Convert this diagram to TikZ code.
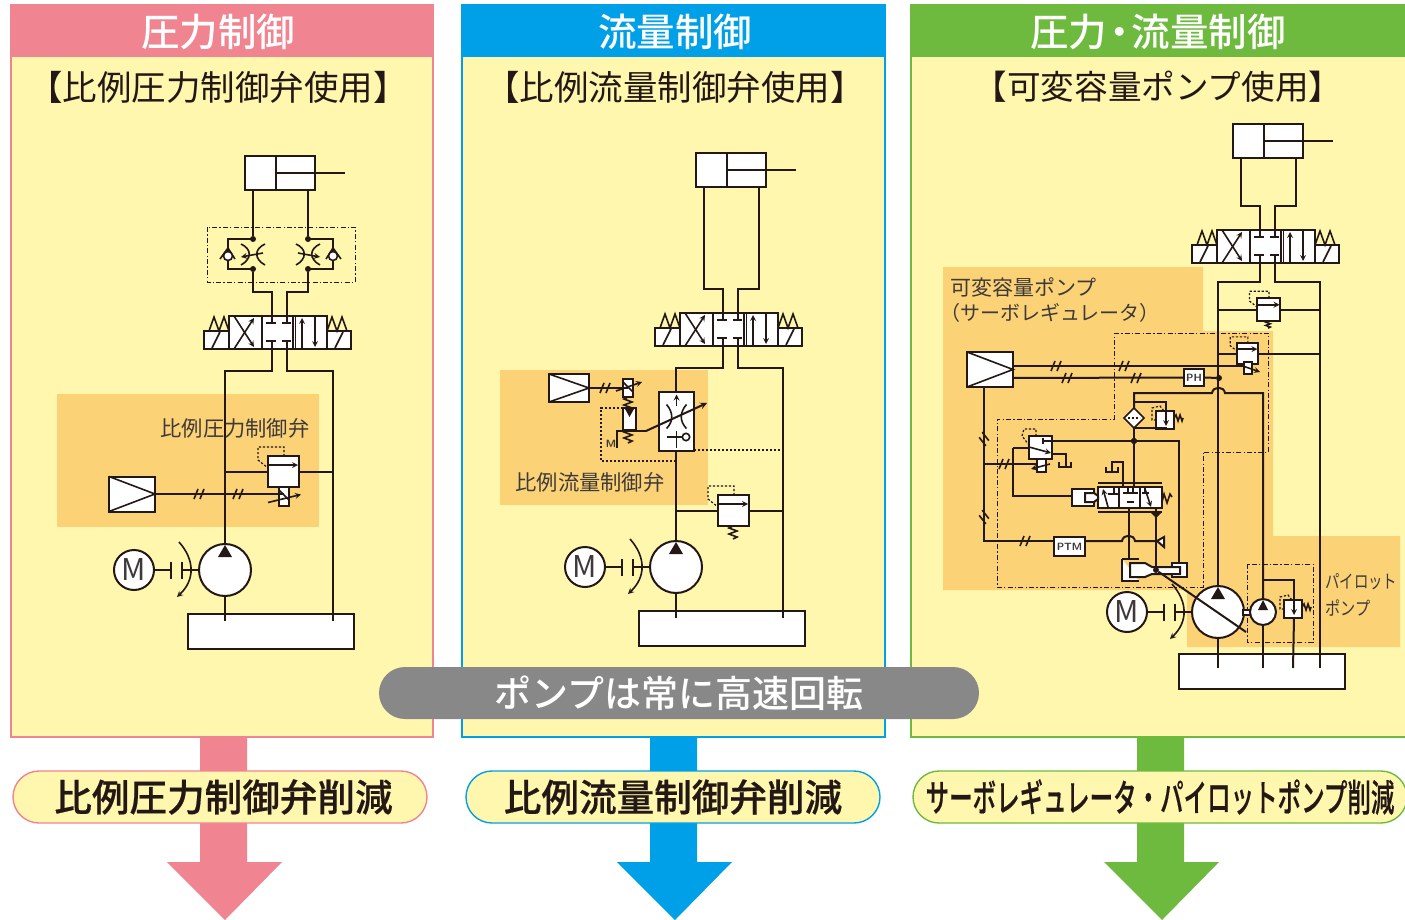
\documentclass[tikz,border=0pt]{standalone}
\usepackage{fontspec}
\setmainfont{Noto Sans CJK JP}
\newfontfamily\medfont{Noto Sans CJK JP Medium}
\newfontfamily\heavyfont[FakeBold=.5]{Noto Sans CJK JP Medium}
\usetikzlibrary{calc,positioning,shapes.geometric}
\definecolor{pinkc}{HTML}{F08490}
\definecolor{bluec}{HTML}{00A0E9}
\definecolor{greenc}{HTML}{6DBA3E}
\definecolor{paperc}{HTML}{FFF7AE}
\definecolor{orangec}{HTML}{FCD277}
\definecolor{greyc}{HTML}{888888}
\definecolor{inkc}{HTML}{231815}
\definecolor{labelc}{HTML}{3E3A39}
\begin{document}
\begin{tikzpicture}[
                x=1pt,y=-1pt,
                pipe/.style={draw=inkc,line width=2pt},
                thinline/.style={draw=inkc,line width=1.6pt},
                pilot/.style={draw=inkc,line width=1.2pt,dash pattern=on 2.2pt off 1.8pt},
                chain/.style={draw=inkc,line width=.9pt,dash pattern=on 5pt off 2.2pt on 1.3pt off 2.2pt},
                part/.style={draw=inkc,line width=2pt,fill=white},
                panelbox/.style={draw,line width=1.5pt,fill=paperc,minimum height=732,inner sep=0pt,outer sep=0pt},
                headbox/.style={minimum height=52,inner sep=0pt,outer sep=0pt},
                headtext/.style={text=white,font=\medfont\fontsize{38.5}{40}\selectfont,inner sep=0pt},
                subtext/.style={text=inkc,font=\fontsize{34.5}{36}\selectfont,inner sep=0pt},
                smalltext/.style={text=labelc,font=\fontsize{21.3}{24}\selectfont,inner sep=0pt},
                pillbox/.style={draw,line width=1.4pt,fill=paperc,rounded corners=26,minimum height=52,inner sep=0pt,outer sep=0pt,text=inkc,font=\heavyfont\fontsize{37.6}{40}\selectfont},
                greypill/.style={fill=greyc,rounded corners=26,minimum width=600,minimum height=52,inner sep=0pt,text=white,font=\medfont\fontsize{37}{40}\selectfont},
                orangebox/.style={fill=orangec,inner sep=0pt,outer sep=0pt},
                partbox/.style={part,inner sep=0pt,outer sep=0pt},
                tankbox/.style={part,minimum width=166,minimum height=35,inner sep=0pt,outer sep=0pt},
                ampbox/.style={part,minimum width=46,minimum height=35,inner sep=0pt,outer sep=0pt},
                tagbox/.style={part,inner sep=0pt,outer sep=0pt,text=labelc,font=\sffamily\bfseries\fontsize{10.5}{12}\selectfont},
                motorbox/.style={part,circle,minimum size=40,inner sep=0pt,outer sep=0pt,text=labelc,font=\fontsize{30}{30}\selectfont},
                dotnode/.style={circle,fill=inkc,minimum size=6,inner sep=0pt,outer sep=0pt},
                pics/cylinder/.style={code={
                    \draw[part] (0,0) rectangle (70,34);
                    \draw[pipe] (31,0) -- (31,34) (31,17) -- (100,17);
                    \coordinate (-l) at (8,34);
                    \coordinate (-r) at (63,34);
                }},
                pics/dirvalve/.style={code={
                    \draw[part] (0,0) rectangle (98,33);
                    \draw[part] (-25,15) rectangle (0,33);
                    \draw[part] (98,15) rectangle (122,33);
                    \draw[pipe] (33,0) -- (33,33) (64,0) -- (64,33);
                    \draw[thinline] (66.5,0) -- (66.5,33);
                    \draw[thinline] (-17,32) -- (-9,16) (106,32) -- (114,16);
                    \draw[thinline] (-20,15) -- (-15,1) -- (-10,15) -- (-5,1) -- (0,15);
                    \draw[thinline] (98,15) -- (103,1) -- (108,15) -- (113,1) -- (118,15);
                    \draw[thinline,-stealth] (5,33) -- (25,2);
                    \draw[thinline,-stealth] (5,0) -- (25,31);
                    \draw[thinline,-stealth] (73,33) -- (73,2);
                    \draw[thinline,-stealth] (86,0) -- (86,31);
                    \draw[pipe] (37,7) -- (47,7) (53,7) -- (62,7) (37,25) -- (47,25) (53,25) -- (62,25);
                    \draw[pipe] (43,0) -- (43,7) (58,0) -- (58,7) (43,25) -- (43,33) (58,25) -- (58,33);
                    \coordinate (-a) at (43,0);
                    \coordinate (-b) at (58,0);
                    \coordinate (-p) at (43,33);
                    \coordinate (-t) at (58,33);
                }},
                pics/throttle/.style={code={
                    \draw[thinline] (-12,-10) .. controls (-1,-5) and (-1,5) .. (-12,11);
                    \draw[thinline] (12,-10) .. controls (1,-5) and (1,5) .. (12,11);
                    \draw[thinline,-stealth] (10,-1) -- (-12,3);
                    \draw[thinline] (0,-15) -- (-25,-15) -- (-25,15) -- (0,15);
                    \draw[thinline] (-33,5) -- (-25,-6) -- (-18,5);
                    \draw[thinline,fill=white] (-25,2) circle (4.5);
                    \node[dotnode] (-top) at (0,-15) {};
                    \node[dotnode] (-bot) at (0,15) {};
                }},
                pics/relief/.style={code={
                    \draw[pilot] (16,0) -- (16,-9) -- (-10,-9) -- (-10,4) -- (0,12);
                    \draw[part] (0,0) rectangle (31,31);
                    \draw[thinline,-stealth] (0,9) -- (30,9);
                    \coordinate (-in) at (0,16);
                    \coordinate (-out) at (31,16);
                }},
                pics/sidevalve/.style={code={
                    \draw[pilot] (0,9) -- (-4,9) -- (-4,-3) -- (4,-5) -- (8,0);
                    \draw[part] (0,0) rectangle (18,18);
                    \draw[thinline,-stealth] (10,0) -- (10,15);
                    \draw[thinline] (18,7) -- (20,4) -- (22,10) -- (24,4) -- (26,10) -- (27,7);
                    \coordinate (-top) at (10,0);
                    \coordinate (-bot) at (10,18);
                }},
                pics/spring/.style={code={
                    \draw[thinline] (0,0) -- (-4,2) -- (4,5) -- (-4,8) -- (4,11) -- (0,13);
                }},
                pics/slash/.style={code={
                    \draw[thinline] (-5,5) -- (-1,-5) (1,5) -- (5,-5);
                }},
                pics/pumpset/.style={code={
                    \node[motorbox] (-m) at (-91,0) {M};
                    \draw[thinline] (-71,0) -- (-54,0) (-54,-8) -- (-54,9) (-43,-8) -- (-43,9) (-43,0) -- (-26,0);
                    \draw[thinline,-stealth] (-46,-28) .. controls (-30,-10) and (-30,10) .. (-48,27);
                    \draw[part] (0,0) circle (26);
                    \fill[inkc] (0,-25) -- (-7,-13) -- (7,-13) -- cycle;
                    \coordinate (-top) at (0,-26);
                    \coordinate (-bot) at (0,26);
                }},
                pics/bigarrow/.style={code={
                    \fill[#1] (-24,0) -- (23,0) -- (23,125) -- (58,125) -- (1,183) -- (-57,125) -- (-24,125) -- cycle;
                }}
            ]
                \useasboundingbox (0,0) rectangle (1405,920);
                \fill[white] (0,0) rectangle (1405,920);

                \pic at (224,737) {bigarrow=pinkc};
                \pic at (674,737) {bigarrow=bluec};
                \pic at (1161,737) {bigarrow=greenc};
                \node[panelbox,draw=pinkc,minimum width=422] (panelA) at (222,371) {};
                \node[panelbox,draw=bluec,minimum width=423] (panelB) at (673.5,371) {};
                \node[panelbox,draw=greenc,minimum width=520] (panelC) at (1171,371) {};
                \node[headbox,fill=pinkc,minimum width=423] (headA) at (222,31) {};
                \node[headbox,fill=bluec,minimum width=424] (headB) at (673.5,31) {};
                \node[headbox,fill=greenc,minimum width=520] (headC) at (1171,31) {};
                \node[headtext] (titleA) at (218,32) {圧力制御};
                \node[headtext] (titleB) at (675,32) {流量制御};
                \node[headtext] (titleC) at (1158,32) {圧力\hspace{-7pt}・\hspace{-7pt}流量制御};
                \node[subtext] (subA) at (218,87) {【比例圧力制御弁使用】};
                \node[subtext] (subB) at (675,87) {【比例流量制御弁使用】};
                \node[subtext,font=\fontsize{33.6}{36}\selectfont] (subC) at (1158,87) {【可変容量ポンプ使用】};

                \node[orangebox,minimum width=262,minimum height=133] (zoneA) at (188,460.5) {};
                \node[orangebox,minimum width=208,minimum height=135] (zoneB) at (604,437.5) {};
                \fill[orangec] (943,267) -- (1203,267) -- (1203,331) -- (1273,331) -- (1273,536) -- (1400,536) -- (1400,647) -- (1187,647) -- (1187,590) -- (943,590) -- cycle;

                \node[tankbox] (tankA) at (271,631.5) {};
                \coordinate (tankAp) at (225,621);
                \coordinate (tankAt) at (333,621);
                \node[tankbox] (tankB) at (721.5,628.5) {};
                \coordinate (tankBp) at (676,618);
                \coordinate (tankBt) at (783,618);
                \node[tankbox] (tankC) at (1261.5,671.5) {};
                \coordinate (tankCp) at (1218,668);
                \coordinate (tankCq) at (1263,668);
                \coordinate (tankCs) at (1293,668);
                \coordinate (tankCt) at (1320,668);

                \pic (cylA) at (245,156) {cylinder};
                \pic (valA) at (229,316) {dirvalve};
                \pic (thrL) at (253,254) {throttle};
                \pic[xscale=-1] (thrR) at (308,254) {throttle};
                \draw[chain] (207,227) rectangle (355,282);
                \draw[pipe] (cylA-l) -- (thrL-top);
                \draw[pipe] (cylA-r) -- (thrR-top);
                \draw[pipe] (thrL-bot) -- ++(0,23) -| (valA-a);
                \draw[pipe] (thrR-bot) -- ++(0,23) -| (valA-b);
                \pic (pumpA) at (225,570) {pumpset};
                \draw[pipe] (valA-p) -- ++(0,22) -| (pumpA-top);
                \draw[pipe] (valA-t) -- ++(0,22) -| (tankAt);
                \draw[pipe] (pumpA-bot) -- (tankAp);
                \node[smalltext] (labelA) at (235,428) {比例圧力制御弁};
                \pic (reliefA) at (268,456) {relief};
                \draw[pipe] (reliefA-in) -- (reliefA-in -| pumpA-top);
                \draw[pipe] (reliefA-out) -- (reliefA-out -| tankAt);
                \node[ampbox] (ampA) at (132,494) {};
                \draw[thinline] (ampA.north west) -- (ampA.east) -- (ampA.south west);
                \node[partbox,minimum width=10,minimum height=19] (solA) at (284,496.5) {};
                \draw[pipe] (ampA.east) -- (ampA.east -| solA.center);
                \draw[thinline] (solA.north west) ++(0,3) -- ++(10,10);
                \draw[thinline,-stealth] (solA.center) ++(-16,6) -- ++(33,-8);
                \pic at (199,494) {slash};
                \pic at (238,494) {slash};

                \pic (cylB) at (696,153) {cylinder};
                \pic (valB) at (680,313) {dirvalve};
                \draw[pipe] (cylB-l) -- ++(0,102) -| (valB-a);
                \draw[pipe] (cylB-r) -- ++(0,102) -| (valB-b);
                \pic (pumpB) at (676,567) {pumpset};
                \draw[pipe] (valB-p) -- ++(0,22) -| (pumpB-top);
                \draw[pipe] (valB-t) -- ++(0,22) -| (tankBt);
                \draw[pipe] (pumpB-bot) -- (tankBp);
                \node[smalltext] (labelB) at (590,482) {比例流量制御弁};
                \coordinate (pilotB) at (676,461);
                \node[partbox,minimum width=35,minimum height=59] (flowB) at (676.5,421.5) {};
                \draw[pilot] (flowB.south east) ++(0,-1) -- ++(89,0);
                \draw[thinline,-stealth] (flowB.center) ++(0,-16) -- ++(0,-11);
                \draw[thinline] (flowB.center) ++(0,9) -- ++(0,17);
                \draw[thinline] ($(flowB.center)+(-10,-17)$) .. controls ($(flowB.center)+(-3,-9)$) and ($(flowB.center)+(-3,0)$) .. ($(flowB.center)+(-10,7)$);
                \draw[thinline] ($(flowB.center)+(10,-17)$) .. controls ($(flowB.center)+(3,-9)$) and ($(flowB.center)+(3,0)$) .. ($(flowB.center)+(10,7)$);
                \draw[thinline] (flowB.center) ++(-10,15.5) -- ++(16,0);
                \draw[thinline,fill=white] (flowB.center) ++(9.5,15.5) circle (3.7);
                \node[partbox,minimum width=13,minimum height=22] (spoolB) at (629.5,419) {};
                \draw[pilot] (spoolB.north west) -- ++(-22,0) |- (pilotB);
                \fill[inkc] (spoolB.north) ++(-5,0) -- ++(10,0) -- ++(-5,9) -- cycle;
                \node[ampbox,minimum width=40,minimum height=28] (ampB) at (569,388) {};
                \draw[thinline] (ampB.north west) -- (ampB.east) -- (ampB.south west);
                \node[partbox,minimum width=10,minimum height=18] (solB) at (628,388) {};
                \draw[pipe] (ampB.east) -- (solB.center);
                \draw[thinline] (solB.north west) ++(0,3) -- ++(10,10);
                \draw[thinline,-stealth] (solB.center) ++(-12,3) -- ++(26,-9);
                \pic at (605,388) {slash};
                \pic at (628,397) {spring};
                \pic[scale=1] at (628,430) {spring};
                \coordinate (mstemB) at (617,448);
                \draw[pipe] (mstemB) |- (646,431);
                \draw[pipe,-stealth] (646,431) -- (707,403);
                \node[text=labelc,font=\sffamily\bfseries\fontsize{10.5}{12}\selectfont,inner sep=0pt] (mtagB) at (611,444) {M};
                \pic (reliefB) at (718,495) {relief};
                \draw[pipe] (reliefB-in) -- (reliefB-in -| pumpB-top);
                \draw[pipe] (reliefB-out) -- (reliefB-out -| tankBt);
                \pic at (733,526) {spring};

                \pic (cylC) at (1233,124) {cylinder};
                \pic (valC) at (1217,230) {dirvalve};
                \draw[pipe] (cylC-l) -- ++(0,48) -| (valC-a);
                \draw[pipe] (cylC-r) -- ++(0,48) -| (valC-b);
                \draw[chain] (1114,333) -- (1268,333) -- (1268,452) -- (1203,452) -- (1203,587) -- (997,587) -- (997,419) -- (1114,419) -- cycle;
                \draw[chain] (1247,564) rectangle (1313,642);
                \pic (pumpC) at (1218,612) {pumpset};
                \draw[pipe] (valC-p) -- ++(0,19) -| (pumpC-top);
                \draw[pipe] (valC-t) -- ++(0,19) -| (tankCt);
                \draw[pipe] (pumpC-bot) -- (tankCp);
                \node[smalltext,anchor=west,font=\fontsize{21}{24}\selectfont] (labelC) at (950,287) {可変容量ポンプ};
                \node[smalltext,anchor=west,font=\fontsize{20}{24}\selectfont] (labelD) at (940,313) {（サーボレギュレータ）};
                \node[smalltext,anchor=west,font=\fontsize{18.5}{22}\selectfont] (labelE) at (1325,582) {\scalebox{.78}[1]{パイロット}};
                \node[smalltext,anchor=west,font=\fontsize{18.5}{22}\selectfont] (labelF) at (1325,608) {\scalebox{.82}[1]{ポンプ}};
                \pic[scale=.75] (reliefC) at (1257,298) {relief};
                \draw[pipe] (reliefC-in) -- (reliefC-in -| pumpC-top);
                \draw[pipe] (reliefC-out) -- (reliefC-out -| tankCt);
                \pic[scale=.55] at (1268,321) {spring};
                \pic[scale=.68] (reliefD) at (1237,343) {relief};
                \draw[pipe] (reliefD-in) -- (reliefD-in -| pumpC-top);
                \draw[pipe] (reliefD-out) -- (reliefD-out -| tankCt);
                \node[ampbox] (ampC) at (990,369.5) {};
                \draw[thinline] (ampC.north west) -- (ampC.east) -- (ampC.south west);
                \node[partbox,minimum width=8,minimum height=12] (solC) at (1248,368) {};
                \draw[pipe] ([yshift=3.5pt]ampC.east) -- (solC.west |- 0,366);
                \draw[thinline,-stealth] (solC.center) ++(-8,-3) -- ++(20,7);
                \node[tagbox,minimum width=20,minimum height=17] (tagPH) at (1194,377.5) {PH};
                \node[dotnode] (dotPH) at (1219,378) {};
                \draw[pipe] ([yshift=-8.5pt]ampC.east) -- (tagPH.west);
                \draw[pipe] (tagPH.east) -- (dotPH);
                \pic at (1056,366) {slash};
                \pic at (1124,366) {slash};
                \pic at (1067,378) {slash};
                \pic at (1136,378) {slash};

                \node[partbox,minimum width=64,minimum height=21] (servoV) at (1130,497.5) {};
                \node[dotnode] (dotF) at (1134,441) {};
                \node[draw=inkc,line width=1.7pt,fill=white,diamond,minimum size=20,inner sep=0pt,outer sep=0pt] (filterC) at (1134,418) {};
                \draw[pilot] (filterC.west) ++(4,0) -- ++(12,0);
                \pic (sideC) at (1156,411) {sidevalve};
                \draw[pipe] (servoV.north -| dotF) -- (dotF) -- (filterC.south);
                \draw[pipe] (filterC.north) -- ++(0,-15) -- (1212,393) .. controls (1213,386) and (1224,386) .. (1225,393) -- (1263,393) -- (1263,599);
                \draw[pipe] (filterC.north) ++(0,-6) -| (sideC-top);
                \draw[pipe] (sideC-bot) |- (filterC.south);
                \node[dotnode] at (1134,441) {};
                \draw[pipe] (dotF) -- (1179,441) -- (1179,563);
                \draw[pipe] (1136,441) -- (1043,441) -- (1043,444);
                \draw[thinline] (servoV.north west) ++(0,-4) -- ++(64,0);
                \draw[thinline] (servoV.south west) ++(0,4) -- ++(64,0);
                \draw[thinline] (1119,487) -- (1119,508) (1140,487) -- (1140,508);
                \draw[thinline,-stealth] (1108,507) -- (1103,489);
                \draw[thinline] (1114,488) -- (1114,494) (1108,494) -- (1118,494);
                \draw[thinline] (1123,493) -- (1138,493) (1128,488) -- (1128,493) (1133,488) -- (1133,493);
                \draw[thinline] (1127,502) -- (1134,502);
                \draw[thinline] (1142,493) -- (1149,493) (1145,488) -- (1145,493);
                \draw[thinline,-stealth] (1145,489) -- (1151,507);
                \draw[thinline] (1162,502) -- (1164,494) -- (1167,503) -- (1170,494) -- (1172,497);
                \draw[pipe] (1123,487) -- (1123,462) -- (1112,462) -- (1112,472);
                \draw[pipe] (1106,467) -- (1106,472) -- (1118,472) -- (1118,467);
                \node[partbox,minimum width=22,minimum height=17] (pistonC) at (1083,497.5) {};
                \draw[part] (1085,493) -- (1094,493) -- (1098,496) -- (1098,499) -- (1094,502) -- (1085,502) -- cycle;
                \draw[pipe] (1013,448) -- (1013,496) -- (pistonC.west |- 0,496);
                \draw[pilot] (1036,436) -- (1036,429) -- (1024,429) -- (1022,436) -- (1029,445);
                \node[partbox,minimum width=23,minimum height=23] (reliefE) at (1040.5,447.5) {};
                \draw[pipe] (reliefE.west |- 0,448) -- (1013,448);
                \draw[pipe] (reliefE.east |- 0,454) -- (1066,454) -- (1066,467);
                \draw[pipe] (1059,462) -- (1059,467) -- (1071,467) -- (1071,462);
                \draw[thinline] (1043,438) -- (1043,444) (1043,441) -- (1052,441);
                \draw[thinline,-stealth] (reliefE.west |- 0,447) -- (1051,453);
                \node[partbox,minimum width=9,minimum height=13] (solE) at (1041.5,465.5) {};
                \draw[pipe] (984,464) -- (solE.west |- 0,464);
                \draw[thinline,-stealth] (1050,464) -- (1031,469);
                \draw[pipe] (ampC.south west -| 984,0) -- (984,541) -- (1054,541);
                \pic[rotate=60] at (984,439) {slash};
                \pic[rotate=60] at (984,517) {slash};
                \pic at (1004,464) {slash};
                \pic at (1025,541) {slash};
                \node[tagbox,minimum width=31,minimum height=19] (tagPTM) at (1069.5,546.5) {PTM};
                \draw[pipe] (tagPTM.east |- 0,541) -- (1122,541) .. controls (1123,534) and (1134,534) .. (1135,541) -- (1157,541);
                \draw[part] (1157,541) -- (1164,537) -- (1164,547) -- cycle;
                \draw[pipe] (servoV.south -| 1129,0) -- (1129,559);
                \draw[pipe] (1156,508) -- (1156,570);
                \fill[inkc] (1150,512) -- (1162,512) -- (1156,518) -- cycle;
                \draw[part] (1122,559) -- (1139,559) (1122,559) -- (1122,581) -- (1139,581);
                \draw[part] (1172,563) rectangle (1187,577);
                \draw[part] (1130,563) -- (1145,563) -- (1152,567) -- (1180,567) -- (1180,574) -- (1152,574) -- (1145,577) -- (1130,577) -- cycle;
                \node[dotnode] (dotS) at (1156,570) {};
                \draw[pipe] (dotS) -- (1246,632);
                \node[partbox,minimum width=9,minimum height=5] (linkC) at (1247,612.5) {};
                \draw[part] (1263,612) circle (13);
                \fill[inkc] (1263,600) -- (1258,610) -- (1268,610) -- cycle;
                \coordinate (pilotU) at (1263,625);
                \draw[pipe] (pilotU) -- (tankCq);
                \pic (sideD) at (1284,600) {sidevalve};
                \draw[pipe] (1263,580) -| (sideD-top);
                \draw[pipe] (sideD-bot) -- (tankCs);

                \node[pillbox,draw=pinkc,minimum width=414] (pillA) at (220,797) {\hspace*{7pt}比例圧力制御弁削減};
                \node[pillbox,draw=bluec,minimum width=414] (pillB) at (673,797) {比例流量制御弁削減};
                \node[pillbox,draw=greenc,minimum width=494] (pillC) at (1160,797) {\scalebox{.625}[1]{サーボレギュレータ・パイロットポンプ削減}};
                \node[greypill] (pillG) at (679,693) {ポンプは常に高速回転};
            \end{tikzpicture}
\end{document}
